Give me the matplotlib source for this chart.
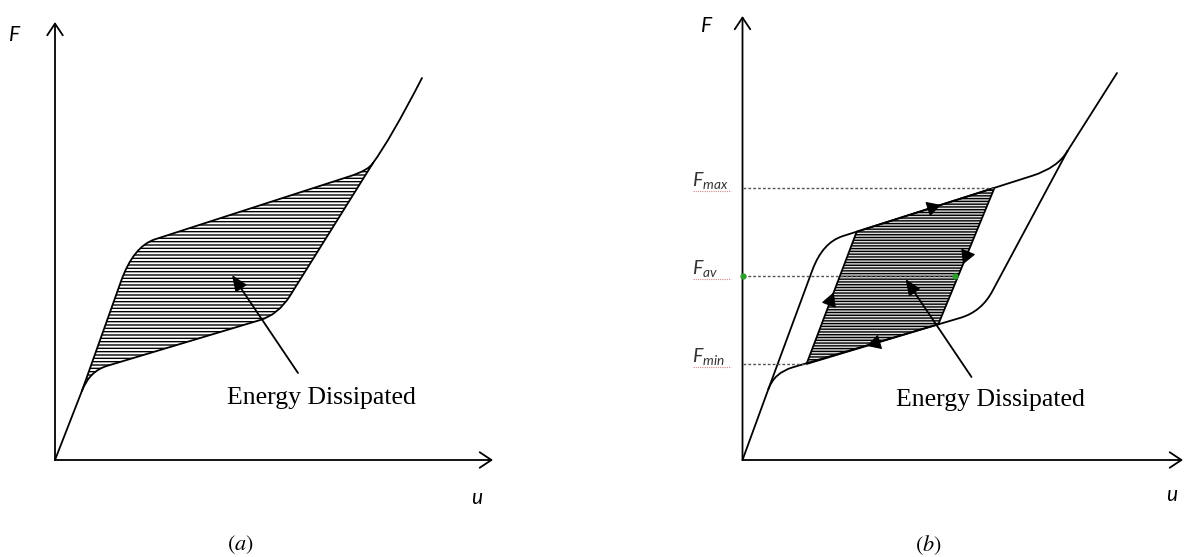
import numpy as np
import matplotlib.pyplot as plt
from matplotlib.path import Path
from matplotlib.patches import PathPatch, Polygon

plt.rcParams['mathtext.fontset'] = 'custom'
plt.rcParams['mathtext.it'] = 'Lato:italic'
plt.rcParams['mathtext.rm'] = 'Lato'
plt.rcParams['hatch.linewidth'] = 1.0

M, L, Q = Path.MOVETO, Path.LINETO, Path.CURVE3

# (a) loading / unloading curves of one full cycle (u, F)
a_initial = [(0, 0), (27, 69.3)]
a_upper = [(27, 69.3), (66, 178.7), (78.4, 213.7), (100, 220.7),
           (295, 283.8), (313.9, 289.9), (318, 297)]
a_lower = [(27, 69.3), (34.6, 88.9), (52, 94.1), (205, 139.9),
           (223.2, 145.3), (235, 164.2), (318, 297)]
a_tail = [(318, 297), (335, 320), (367, 382)]
a_arrow = [(243, 87), (177, 185)]
a_text = (266, 56)

# (b) outer curves plus the partial loop between F_min and F_max
b_initial = [(0, 0), (26, 71.2)]
b_upper = [(26, 71.2), (70, 190.2), (80.1, 217.4), (100, 223.8),
           (290, 284.3), (315.2, 292.3), (325, 309)]
b_lower = [(26, 71.2), (31.9, 87.3), (50, 92.6), (218, 142.2),
           (239.2, 148.5), (250, 169.1), (325, 309)]
b_tail = [(325, 309), (374.5, 387)]
F_max = 272.2
F_min = 96.0
F_av = (F_max + F_min) / 2
b_loop = [(64, F_min), (114.2, 228.3), (252, F_max), (195.8, 135.7)]
b_av_end = 212
b_arrow = [(229, 83), (163, 181)]
b_text = (247.5, 54)

upper_codes = [M, L, Q, Q, L, Q, Q]
lower_codes = [M, Q, Q, L, Q, Q, L]


def draw_path(ax, verts, codes, lw=1.3):
    ax.add_patch(PathPatch(Path(verts, codes), fill=False, ec='black', lw=lw,
                           joinstyle='round', capstyle='round', zorder=3))


def region(upper, ucodes, lower, lcodes):
    verts = list(upper) + list(lower[::-1]) + [upper[0]]
    codes = list(ucodes) + [L] + list(lcodes[:0:-1]) + [Path.CLOSEPOLY]
    return Path(verts, codes)


def axes_arrows(ax, top, right, flabel, ulabel):
    head = dict(arrowstyle='->,head_length=0.6,head_width=0.4', lw=1.3,
                color='black', shrinkA=0, shrinkB=0, mutation_scale=14)
    ax.annotate('', xy=(0, top), xytext=(0, 0), arrowprops=head)
    ax.annotate('', xy=(right, 0), xytext=(0, 0), arrowprops=head)
    ax.text(*flabel, 'F', fontfamily='Lato', style='italic', fontsize=15,
            ha='center', va='center')
    ax.text(*ulabel, 'u', fontfamily='Lato', style='italic', fontsize=15,
            ha='center', va='center')


def energy_label(ax, arrow, xy):
    ax.annotate('', xy=arrow[1], xytext=arrow[0],
                arrowprops=dict(arrowstyle='-|>,head_length=0.6,head_width=0.25',
                                lw=1.3, color='black', shrinkA=0, shrinkB=0,
                                mutation_scale=16), zorder=5)
    ax.text(*xy, 'Energy Dissipated', fontfamily='Liberation Serif',
            fontsize=18.5, ha='center', va='baseline')


fig = plt.figure(figsize=(11.85, 5.57), dpi=100)

# ---- panel (a)
axA = fig.add_axes([0, 0, 600 / 1185, 1])
axA.set_xlim(-55, 545)
axA.set_ylim(-97, 460)
axA.set_axis_off()

axA.add_patch(PathPatch(region(a_upper, upper_codes, a_lower, lower_codes),
                        facecolor='white', edgecolor='black', lw=0,
                        hatch='-----', zorder=1))
draw_path(axA, a_initial, [M, L])
draw_path(axA, a_upper, upper_codes)
draw_path(axA, a_lower, lower_codes)
draw_path(axA, a_tail, [M, Q, Q])
axes_arrows(axA, 438, 438, (-40, 425), (422, -38))
energy_label(axA, a_arrow, a_text)
axA.text(185, -85, r'$(\mathit{a})$', math_fontfamily='stix', fontsize=16,
         ha='center', va='center')

# ---- panel (b)
axB = fig.add_axes([600 / 1185, 0, 585 / 1185, 1])
axB.set_xlim(-142.5, 442.5)
axB.set_ylim(-97, 460)
axB.set_axis_off()

axB.add_patch(Polygon(b_loop, closed=True, facecolor='#dedede',
                      edgecolor='black', lw=1.3, hatch='------', zorder=1))
draw_path(axB, b_initial, [M, L])
draw_path(axB, b_upper, upper_codes)
draw_path(axB, b_lower, lower_codes)
draw_path(axB, b_tail, [M, L])

# reference levels
dot = dict(color='#555555', lw=1.0, ls=(0, (2, 1.5)), zorder=4)
axB.plot([0, b_loop[2][0]], [F_max, F_max], **dot)
axB.plot([0, b_av_end], [F_av, F_av], **dot)
axB.plot([0, b_loop[0][0]], [F_min, F_min], **dot)
axB.plot([0, b_av_end], [F_av, F_av], 'o', color='#2ca02c', ms=3.5, zorder=6)

for lab, lev in [(r'$F_{max}$', F_max), (r'$F_{av}$', F_av), (r'$F_{min}$', F_min)]:
    axB.text(-51, lev + 2, lab, math_fontfamily='custom', fontsize=14,
             ha='left', va='baseline', color='#333333')
    axB.plot([-50, -12], [lev - 3, lev - 3], color='#d08a8a', lw=0.8,
             ls=(0, (1, 1)), zorder=2)

# direction of travel round the partial loop
edge_pos = [0.5, 0.57, 0.52, 0.5]
for i, t in enumerate(edge_pos):
    p0 = np.array(b_loop[i])
    p1 = np.array(b_loop[(i + 1) % 4])
    d = (p1 - p0) / np.hypot(*(p1 - p0))
    c = p0 + t * (p1 - p0)
    axB.annotate('', xy=c + 6 * d, xytext=c - 6 * d,
                 arrowprops=dict(arrowstyle='-|>,head_length=0.55,head_width=0.3',
                                 color='black', lw=0.8, shrinkA=0, shrinkB=0,
                                 mutation_scale=16), zorder=6)

axes_arrows(axB, 444, 440.5, (-35.5, 433.5), (429.5, -35))
energy_label(axB, b_arrow, b_text)
axB.text(185.5, -85, r'$(\mathit{b})$', math_fontfamily='stix', fontsize=16,
         ha='center', va='center')

fig.savefig('out.png', dpi=100)
